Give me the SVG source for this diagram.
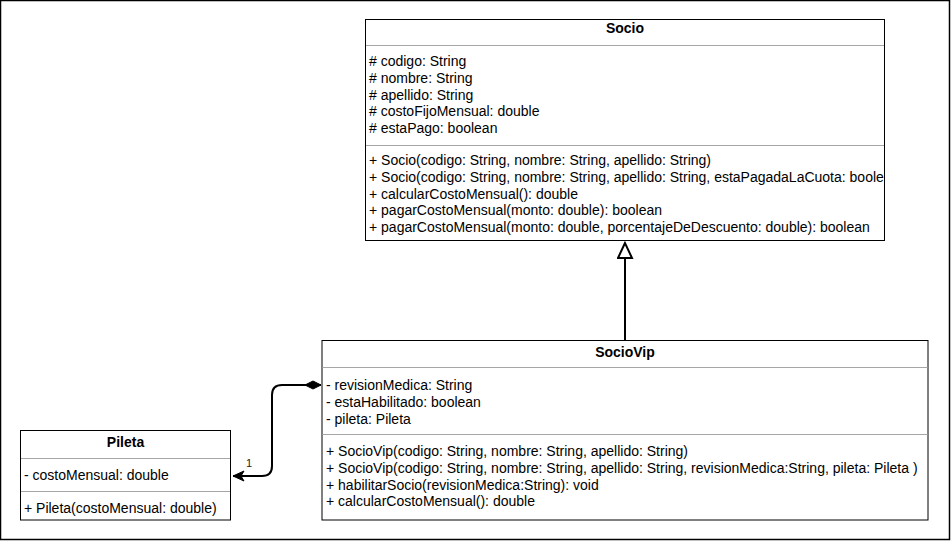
<svg xmlns="http://www.w3.org/2000/svg" width="951" height="541" viewBox="0 0 951 541">
<style>
.box{fill:#fff;stroke:#000;stroke-width:1}
.sep{stroke:#a6a6a6;stroke-width:1}
text{font-family:"Liberation Sans",Arial,Helvetica,sans-serif;font-size:14px;fill:#000}
.title{font-weight:bold;text-anchor:middle}
.edge{fill:none;stroke:#000;stroke-width:2}
.lbl{font-size:11px;fill:#222}
</style>
<defs>
<clipPath id="clipSocio"><rect x="365" y="19" width="520" height="222"/></clipPath>
<marker id="inherit" viewBox="0 0 20 18" markerWidth="20" markerHeight="18" refX="17" refY="8" orient="auto" markerUnits="userSpaceOnUse">
<path d="M17,8 L2,1 L2,15 Z" fill="#fff" stroke="#000" stroke-width="2"/>
</marker>
<marker id="diamond" viewBox="0 0 18 10" markerWidth="18" markerHeight="10" refX="1" refY="5" orient="auto" markerUnits="userSpaceOnUse">
<path d="M1,5 L9,1 L17,5 L9,9 Z" fill="#000" stroke="#000" stroke-width="1"/>
</marker>
<marker id="classic" viewBox="0 0 14 12" markerWidth="14" markerHeight="12" refX="13" refY="6" orient="auto" markerUnits="userSpaceOnUse">
<path d="M13,6 L2,1 L5,6 L2,11 Z" fill="#000" stroke="#000" stroke-width="1"/>
</marker>
</defs>
<rect x="0.5" y="0.5" width="949" height="539" fill="#fff" stroke="#000" stroke-width="1.5"/>

<g id="Socio">
<rect class="box" x="365.5" y="19.5" width="519" height="221"/>
<line class="sep" x1="366" y1="45.5" x2="884" y2="45.5"/>
<line class="sep" x1="366" y1="145.5" x2="884" y2="145.5"/>
<text class="title" x="625" y="33">Socio</text>
<text x="369" y="66">
<tspan x="369" y="66"># codigo: String</tspan>
<tspan x="369" y="82.8"># nombre: String</tspan>
<tspan x="369" y="99.6"># apellido: String</tspan>
<tspan x="369" y="116.4"># costoFijoMensual: double</tspan>
<tspan x="369" y="133.2"># estaPago: boolean</tspan>
</text>
<g clip-path="url(#clipSocio)">
<text x="369" y="165">
<tspan x="369" y="165">+ Socio(codigo: String, nombre: String, apellido: String)</tspan>
<tspan x="369" y="181.8">+ Socio(codigo: String, nombre: String, apellido: String, estaPagadaLaCuota: boole</tspan>
<tspan x="369" y="198.6">+ calcularCostoMensual(): double</tspan>
<tspan x="369" y="215.4">+ pagarCostoMensual(monto: double): boolean</tspan>
<tspan x="369" y="232.2">+ pagarCostoMensual(monto: double, porcentajeDeDescuento: double): boolean</tspan>
</text>
</g>
</g>

<g id="SocioVip">
<rect class="box" x="322" y="340.5" width="606" height="179.5"/>
<line class="sep" x1="322.5" y1="367.5" x2="927.5" y2="367.5"/>
<line class="sep" x1="322.5" y1="434.5" x2="927.5" y2="434.5"/>
<text class="title" x="625" y="357">SocioVip</text>
<text x="326" y="390">
<tspan x="326" y="390">- revisionMedica: String</tspan>
<tspan x="326" y="406.8">- estaHabilitado: boolean</tspan>
<tspan x="326" y="423.6">- pileta: Pileta</tspan>
</text>
<text x="326" y="456">
<tspan x="326" y="456">+ SocioVip(codigo: String, nombre: String, apellido: String)</tspan>
<tspan x="326" y="472.8">+ SocioVip(codigo: String, nombre: String, apellido: String, revisionMedica:String, pileta: Pileta )</tspan>
<tspan x="326" y="489.6">+ habilitarSocio(revisionMedica:String): void</tspan>
<tspan x="326" y="506.4">+ calcularCostoMensual(): double</tspan>
</text>
</g>

<g id="Pileta">
<rect class="box" x="20.5" y="430.5" width="210" height="89.5"/>
<line class="sep" x1="21" y1="458.5" x2="230" y2="458.5"/>
<line class="sep" x1="21" y1="491.5" x2="230" y2="491.5"/>
<text class="title" x="125.5" y="447">Pileta</text>
<text x="24" y="480">- costoMensual: double</text>
<text x="24" y="513">+ Pileta(costoMensual: double)</text>
</g>

<g id="connectors">
<path class="edge" d="M625,340 L625,243" marker-end="url(#inherit)"/>
<path class="edge" d="M321,385 L282,385 Q272,385 272,395 L272,466 Q272,476 262,476 L233,476" marker-start="url(#diamond)" marker-end="url(#classic)"/>
<text class="lbl" x="246" y="467">1</text>
</g>
</svg>
